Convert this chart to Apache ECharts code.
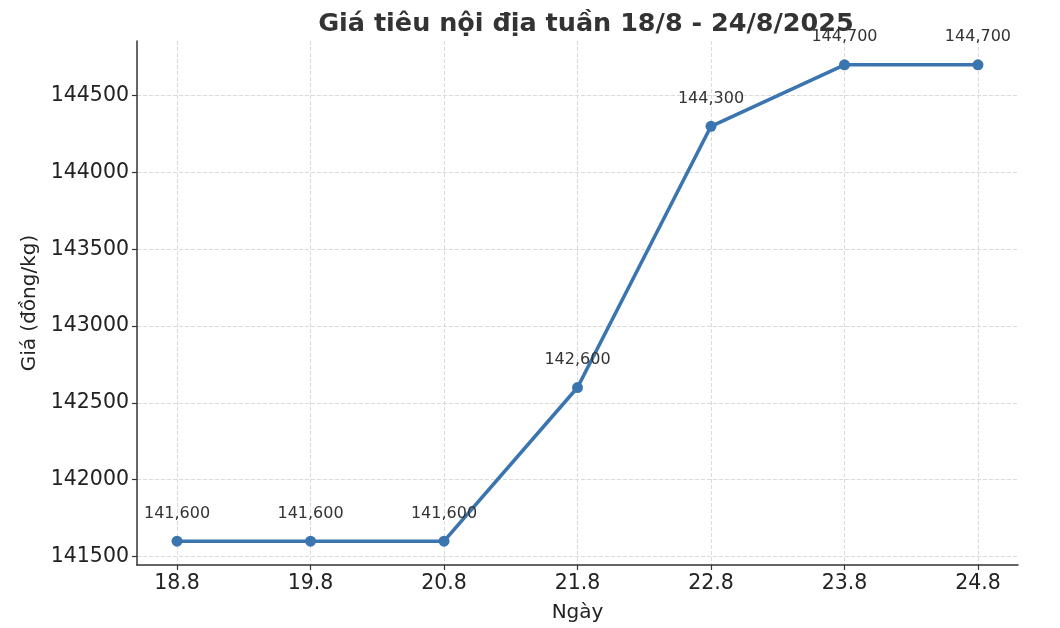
<!DOCTYPE html>
<html>
<head>
<meta charset="utf-8">
<script src="https://cdn.jsdelivr.net/npm/echarts@6/dist/echarts.min.js"></script>
<style>html,body{margin:0;padding:0;background:#fff}#c{width:1060px;height:628px}</style>
</head>
<body>
<div id="c"></div>
<script>
const categories = ['18.8', '19.8', '20.8', '21.8', '22.8', '23.8', '24.8'];
const prices = [141600, 141600, 141600, 142600, 144300, 144700, 144700];
const yTicks = [141500, 142000, 142500, 143000, 143500, 144000, 144500];
const titleText = 'Giá tiêu nội địa tuần 18/8 - 24/8/2025';
const xName = 'Ngày';
const yName = 'Giá (đồng/kg)';

const FONT = 'DejaVu Sans';
const xIdx = categories.map((_, i) => i);
const lo = Math.min(...prices), hi = Math.max(...prices);
const pad = (hi - lo) * 0.05;
const xpad = (categories.length - 1) * 0.05;

const chart = echarts.init(document.getElementById('c'), null, {renderer: 'canvas'});
chart.setOption({
  animation: false,
  backgroundColor: '#fff',
  textStyle: {fontFamily: FONT},
  title: {
    text: titleText, left: 581, textAlign: 'center', top: 6,
    textStyle: {fontFamily: FONT, fontSize: 25.5, fontWeight: 'bold', color: '#333'}
  },
  grid: {left: 137, right: 42, top: 41, bottom: 62},
  xAxis: {
    type: 'value', min: -xpad, max: categories.length - 1 + xpad,
    name: xName, nameLocation: 'middle', nameGap: 38,
    nameTextStyle: {fontFamily: FONT, fontSize: 20, color: '#222'},
    axisLine: {show: true, onZero: false, lineStyle: {color: '#333', width: 1.5}},
    axisTick: {show: true, length: 5, lineStyle: {color: '#333', width: 1.2}, customValues: xIdx},
    axisLabel: {customValues: xIdx, fontFamily: FONT, fontSize: 20.5, color: '#222', margin: 8,
      formatter: v => categories[Math.round(v)] ?? ''},
    splitLine: {show: true, lineStyle: {color: '#d6d6d6', type: [4, 2], width: 0.9}}
  },
  yAxis: {
    type: 'value', min: lo - pad, max: hi + pad,
    name: yName, nameLocation: 'middle', nameGap: 95,
    nameTextStyle: {fontFamily: FONT, fontSize: 20, color: '#222'},
    axisLine: {show: true, onZero: false, lineStyle: {color: '#333', width: 1.5}},
    axisTick: {show: true, length: 5, lineStyle: {color: '#333', width: 1.2}, customValues: yTicks},
    axisLabel: {customValues: yTicks, fontFamily: FONT, fontSize: 20.5, color: '#222', margin: 8,
      formatter: v => String(v)},
    splitLine: {show: true, lineStyle: {color: '#d6d6d6', type: [4, 2], width: 0.9}}
  },
  series: [{
    type: 'line',
    data: prices.map((p, i) => [i, p]),
    color: '#3b75af',
    lineStyle: {width: 3.6, color: '#3b75af'},
    symbol: 'circle', symbolSize: 11,
    itemStyle: {color: '#3b75af'},
    label: {
      show: true, position: 'top', distance: 14,
      fontFamily: FONT, fontSize: 16, color: '#333',
      formatter: p => p.value[1].toLocaleString('en-US')
    }
  }]
});
</script>
</body>
</html>
